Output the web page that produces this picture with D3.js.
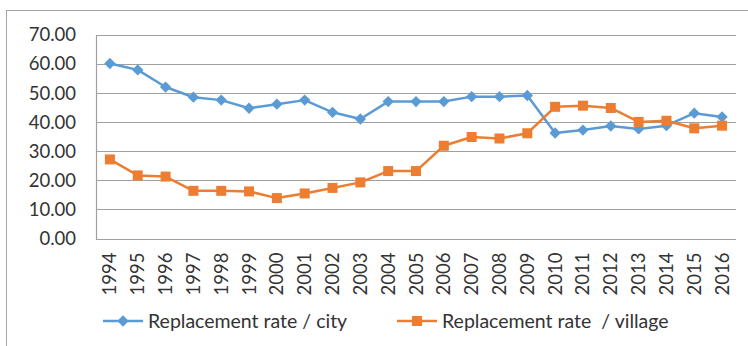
<!DOCTYPE html>
<html>
<head>
<meta charset="utf-8">
<script src="https://cdn.jsdelivr.net/npm/d3@7"></script>
<style>
  html, body { margin: 0; padding: 0; background: #fff; }
  svg { display: block; }
  text { font-family: Lato, "Open Sans", "Liberation Sans", sans-serif; fill: #333; }
</style>
</head>
<body>
<svg id="chart" width="748" height="346"></svg>
<script>
// Replacement rate by year, urban vs rural
const years = ["1994","1995","1996","1997","1998","1999","2000","2001","2002","2003","2004","2005",
               "2006","2007","2008","2009","2010","2011","2012","2013","2014","2015","2016"];
const cityRate = [60.2, 58.0, 52.1, 48.6, 47.6, 44.8, 46.2, 47.6, 43.4, 41.1, 47.1, 47.1,
                  47.1, 48.8, 48.8, 49.2, 36.3, 37.3, 38.7, 37.7, 38.8, 43.1, 41.8];
const villageRate = [27.2, 21.7, 21.3, 16.4, 16.4, 16.2, 13.9, 15.5, 17.4, 19.3, 23.2, 23.2,
                     31.9, 34.9, 34.4, 36.2, 45.3, 45.7, 44.9, 40.1, 40.5, 37.9, 38.8];
const yTicks = [0, 10, 20, 30, 40, 50, 60, 70];
const seriesNames = ["Replacement rate / city", "Replacement rate  / village"];
const seriesColors = ["#5b9bd5", "#ed7d31"];

const svg = d3.select("#chart");
const fontSize = 18.5;

// outer chart frame
svg.append("rect")
  .attr("x", 6.5).attr("y", 10.5)
  .attr("width", 800).attr("height", 400)
  .attr("fill", "none").attr("stroke", "#a6a6a6").attr("stroke-width", 1);

const plot = { left: 96, right: 736, top: 35, bottom: 238.5 };

const x = d3.scaleBand().domain(years).range([plot.left, plot.right]);
const y = d3.scaleLinear().domain([0, 70]).range([plot.bottom, plot.top]);
const cx = d => x(d) + x.bandwidth() / 2;

// horizontal gridlines
svg.append("g")
  .selectAll("line")
  .data(yTicks)
  .join("line")
  .attr("x1", plot.left).attr("x2", plot.right)
  .attr("y1", d => Math.round(y(d)) + 0.5).attr("y2", d => Math.round(y(d)) + 0.5)
  .attr("stroke", "#a0a0a0").attr("stroke-width", 1.2);

// value axis
const yAxis = d3.axisLeft(y).tickValues(yTicks).tickSize(0).tickPadding(0)
  .tickFormat(d3.format(".2f"));
const gy = svg.append("g").attr("transform", `translate(${plot.left - 20},0)`).call(yAxis);
gy.select(".domain").remove();
gy.selectAll("text")
  .attr("font-size", fontSize)
  .attr("font-family", "Lato, 'Open Sans', sans-serif")
  .attr("fill", "#333");

// left axis line
svg.append("line")
  .attr("x1", plot.left + 0.5).attr("x2", plot.left + 0.5)
  .attr("y1", plot.top).attr("y2", plot.bottom + 0.5)
  .attr("stroke", "#a0a0a0").attr("stroke-width", 1.2);

// category axis with rotated year labels
const xAxis = d3.axisBottom(x).tickSize(0).tickPadding(0);
const gx = svg.append("g").attr("transform", `translate(0,${plot.bottom})`).call(xAxis);
gx.select(".domain").remove();
gx.selectAll("text")
  .attr("font-size", fontSize)
  .attr("font-family", "Lato, 'Open Sans', sans-serif")
  .attr("fill", "#333")
  .attr("text-anchor", "end")
  .attr("dy", null)
  .attr("y", 0)
  .attr("transform", "translate(6.5,14) rotate(-90)");

// series lines and markers
const series = [cityRate, villageRate];
const markerPath = [
  d3.symbol().type(d3.symbolSquare).size(64)(),   // rotated 45° into a diamond
  d3.symbol().type(d3.symbolSquare).size(100)()
];
const markerRotate = [45, 0];

series.forEach((vals, i) => {
  const line = d3.line().x((d, j) => cx(years[j])).y(d => y(d));
  svg.append("path")
    .datum(vals)
    .attr("d", line)
    .attr("fill", "none")
    .attr("stroke", seriesColors[i])
    .attr("stroke-width", 2.5)
    .attr("stroke-linejoin", "round");
  svg.append("g")
    .selectAll("path")
    .data(vals)
    .join("path")
    .attr("d", markerPath[i])
    .attr("transform", (d, j) => `translate(${cx(years[j])},${y(d)}) rotate(${markerRotate[i]})`)
    .attr("fill", seriesColors[i]);
});

// legend
const legendItems = [
  { x0: 103, text: seriesNames[0] },
  { x0: 397, text: seriesNames[1] }
];
const ly = 321;
legendItems.forEach((it, i) => {
  const g = svg.append("g");
  g.append("line")
    .attr("x1", it.x0).attr("x2", it.x0 + 40)
    .attr("y1", ly).attr("y2", ly)
    .attr("stroke", seriesColors[i]).attr("stroke-width", 2.5);
  g.append("path")
    .attr("d", markerPath[i])
    .attr("transform", `translate(${it.x0 + 20},${ly}) rotate(${markerRotate[i]})`)
    .attr("fill", seriesColors[i]);
  g.append("text")
    .attr("x", it.x0 + 45).attr("y", ly)
    .attr("dy", "0.35em")
    .attr("font-size", 19.5)
    .style("white-space", "pre")
    .text(it.text);
});
</script>
</body>
</html>
